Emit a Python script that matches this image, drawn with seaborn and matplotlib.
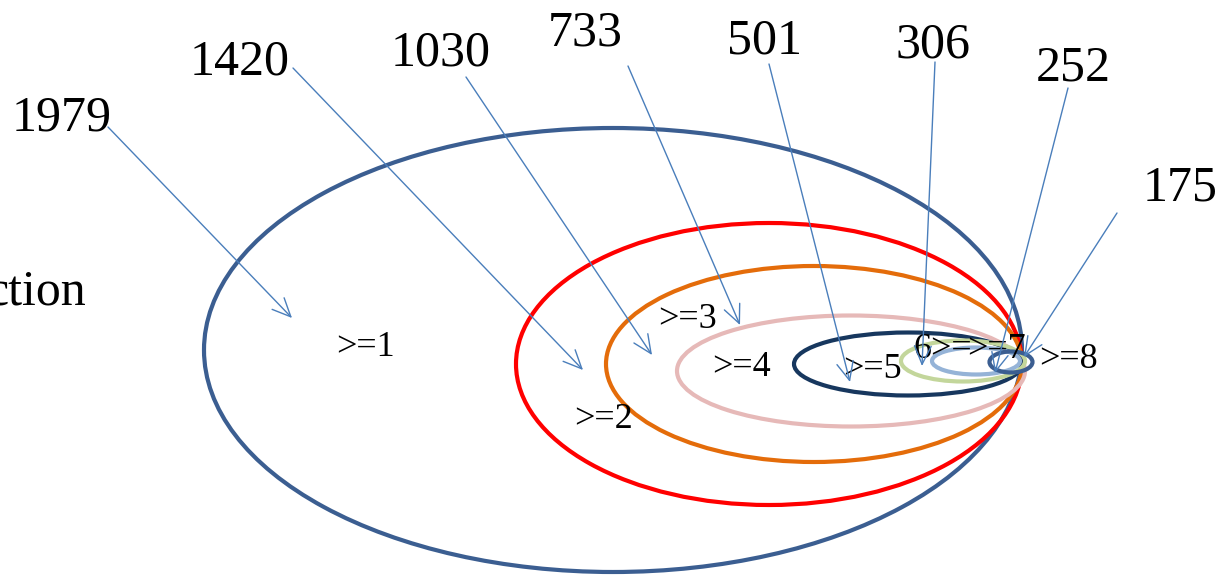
import matplotlib
matplotlib.use("Agg")
import matplotlib.pyplot as plt
from matplotlib.patches import Ellipse
import seaborn as sns

# ---- data ----
counts = ["1979", "1420", "1030", "733", "501", "306", "252", "175"]
levels = [">=1", ">=2", ">=3", ">=4", ">=5", "6>=", ">=7", ">=8"]
side_text = "ction"

# ellipse geometry (pixel space)
ell_cx = [613, 769, 814, 851, 908, 963, 976, 1011]
ell_cy = [350, 364, 364, 371, 364, 361, 361, 362]
ell_w = [818, 506, 416, 348, 228, 124, 88, 43]
ell_h = [444, 282, 196, 111, 63, 41, 27, 21]
ell_colors = ["#3B5E91", "#FF0000", "#E46C0A", "#E6B9B8", "#17375E",
              "#C3D69B", "#95B3D7", "#3B5E91"]

# label positions
lvl_x = [365, 603, 688, 742, 872, 943, 996, 1068]
lvl_y = [347, 420, 320, 367, 369, 349, 349, 360]
num_x = [62, 240, 441, 585, 764, 933, 1073, 1180]
num_y = [118, 62, 53, 33, 41, 45, 68, 188]
arr_x0 = [108, 293, 466, 628, 769, 935, 1068, 1117]
arr_y0 = [127, 68, 77, 66, 64, 62, 88, 213]
arr_x1 = [292, 583, 652, 740, 850, 922, 995, 1024]
arr_y1 = [318, 370, 355, 325, 382, 366, 373, 357]

sns.set_theme(style="white")
plt.rcParams["font.family"] = ["Liberation Serif", "DejaVu Serif"]

fig = plt.figure(figsize=(12.19, 5.76), dpi=100)
ax = fig.add_axes([0, 0, 1, 1])
ax.set_xlim(0, 1219)
ax.set_ylim(576, 0)
ax.axis("off")

for cx, cy, w, h, c in zip(ell_cx, ell_cy, ell_w, ell_h, ell_colors):
    ax.add_patch(Ellipse((cx, cy), w, h, fill=False, edgecolor=c, lw=3.0, zorder=2))

for t, x, y in zip(levels, lvl_x, lvl_y):
    ax.text(x, y, t, fontsize=26, ha="center", va="center", color="black", zorder=4)

for t, x, y in zip(counts, num_x, num_y):
    ax.text(x, y, t, fontsize=36, ha="center", va="center", color="black", zorder=4)

for x0, y0, x1, y1 in zip(arr_x0, arr_y0, arr_x1, arr_y1):
    ax.annotate("", xy=(x1, y1), xytext=(x0, y0),
                arrowprops=dict(arrowstyle="->,head_length=1.1,head_width=0.5",
                                color="#4A7EBB", lw=1.0, shrinkA=0, shrinkB=0),
                zorder=5)

ax.text(86, 292, side_text, fontsize=36, ha="right", va="center", color="black")

fig.savefig("out.png", dpi=100)
